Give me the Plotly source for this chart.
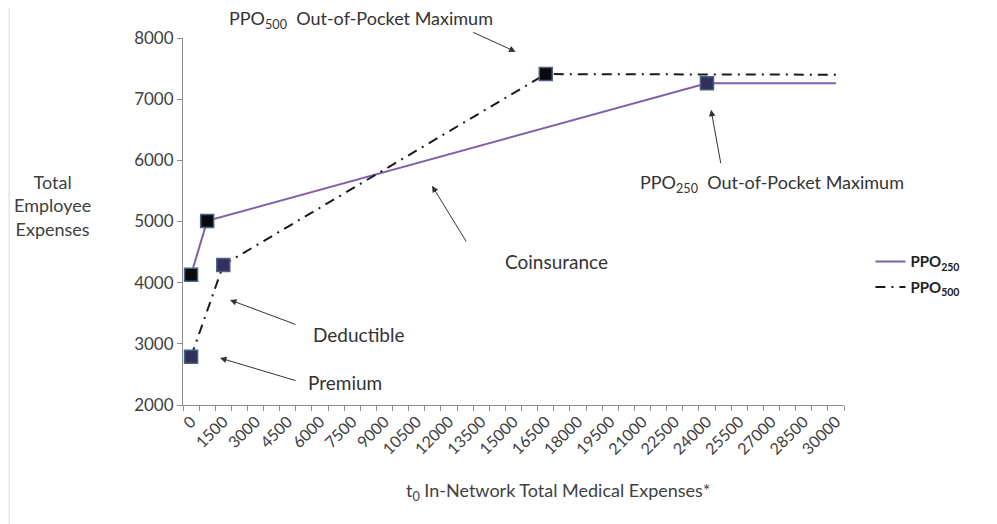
import plotly.graph_objects as go

# ---- data ----
ppo250_x = [0, 750, 24000, 30000]
ppo250_y = [4130, 5010, 7260, 7260]
ppo500_x = [0, 1500, 16500, 30000]
ppo500_y = [2790, 4290, 7410, 7400]

ppo250_marker_fill = ["#0a0a0a", "#0a0a0a", "#30305a"]
ppo500_marker_fill = ["#30305a", "#30305a", "#0a0a0a"]

x_tick_vals = list(range(0, 30001, 1500))
x_tick_text = [str(v) for v in x_tick_vals]
y_tick_vals = [2000, 3000, 4000, 5000, 6000, 7000, 8000]

FONT = "Lato, Open Sans, sans-serif"
TXT = "#404040"

fig = go.Figure()

# lines
fig.add_trace(go.Scatter(
    x=ppo250_x, y=ppo250_y, mode="lines", name="<b>PPO<sub>250</sub></b>",
    legendgroup="a", line=dict(color="#7f5fa8", width=2)))
fig.add_trace(go.Scatter(
    x=ppo500_x, y=ppo500_y, mode="lines", name="<b>PPO<sub>500</sub></b>",
    legendgroup="b", line=dict(color="#1a1a1a", width=2, dash="10px,6px,2px,6px")))

# markers (only at the kink points)
fig.add_trace(go.Scatter(
    x=ppo250_x[:3], y=ppo250_y[:3], mode="markers", showlegend=False,
    marker=dict(symbol="square", size=13, color=ppo250_marker_fill,
                line=dict(color="#4a5f85", width=1.5))))
fig.add_trace(go.Scatter(
    x=ppo500_x[:3], y=ppo500_y[:3], mode="markers", showlegend=False,
    marker=dict(symbol="square", size=13, color=ppo500_marker_fill,
                line=dict(color="#4a5f85", width=1.5))))

# text labels (paper coordinates)
fig.add_annotation(xref="paper", yref="paper", x=0.269, y=1.087,
                   text="PPO<sub>500</sub>  Out-of-Pocket Maximum", showarrow=False,
                   xanchor="center", yanchor="top", borderpad=0,
                   font=dict(family=FONT, size=18, color="#333333"))
labels = [
    ("PPO<sub>250</sub>  Out-of-Pocket Maximum", 0.891, 0.6027, 18),
    ("Coinsurance", 0.5658, 0.3900, 19),
    ("Deductible", 0.2663, 0.1909, 19),
    ("Premium", 0.2451, 0.0600, 19),
]
for t, x, y, s in labels:
    fig.add_annotation(xref="paper", yref="paper", x=x, y=y, text=t, showarrow=False,
                       xanchor="center", yanchor="middle",
                       font=dict(family=FONT, size=s, color="#333333"))

# arrows: head in data coords, tail in pixel offsets
arrows = [
    (15100, 7776, -44, -20),
    (24190, 6827, 10, 55),
    (11210, 5583, 35, 57),
    (1812, 3717, 67, 25),
    (1346, 2768, 77, 23),
]
for x, y, ax, ay in arrows:
    fig.add_annotation(x=x, y=y, ax=ax, ay=ay, text="", showarrow=True,
                       arrowhead=2, arrowsize=1.3, arrowwidth=1, arrowcolor="#333333")

# y-axis title (horizontal)
fig.add_annotation(xref="paper", yref="paper", x=-0.198, y=0.5427,
                   text="Total<br>Employee<br>Expenses", showarrow=False,
                   xanchor="center", yanchor="middle",
                   font=dict(family=FONT, size=18, color=TXT))
# x-axis title
fig.add_annotation(xref="paper", yref="paper", x=0.567, y=-0.235,
                   text="t<sub>0</sub> In-Network Total Medical Expenses*", showarrow=False,
                   xanchor="center", yanchor="middle",
                   font=dict(family=FONT, size=18, color=TXT))

# faint left border line
fig.add_shape(type="line", xref="paper", yref="paper", x0=-0.263, x1=-0.263,
              y0=-0.33, y1=1.11, line=dict(color="#d9d9d9", width=1))

fig.update_xaxes(
    range=[-375, 30375], showgrid=False, zeroline=False, automargin=False,
    showline=True, linecolor="#8c8c8c", linewidth=1,
    tickmode="array", tickvals=x_tick_vals, ticktext=x_tick_text,
    tickangle=-45, ticks="", ticklen=0,
    tickfont=dict(family=FONT, size=16, color=TXT),
    minor=dict(tickmode="linear", tick0=-375, dtick=750, ticks="outside",
               ticklen=5, tickcolor="#8c8c8c", showgrid=False),
)
fig.update_yaxes(
    range=[2000, 8000], showgrid=False, zeroline=False, automargin=False,
    showline=True, linecolor="#8c8c8c", linewidth=1,
    tickmode="array", tickvals=y_tick_vals,
    ticks="outside", ticklen=5, tickcolor="#8c8c8c",
    tickfont=dict(family=FONT, size=17, color=TXT),
)

# page body has an 8px margin; size/margins compensate so the plot lands in place
fig.update_layout(
    width=989, height=516,
    margin=dict(l=175, r=153, t=30, b=119),
    plot_bgcolor="white", paper_bgcolor="white",
    legend=dict(x=1.04, y=0.435, xanchor="left", yanchor="top",
                traceorder="grouped", tracegroupgap=3,
                font=dict(family=FONT, size=15, color="#222222"),
                bgcolor="rgba(0,0,0,0)"),
    font=dict(family=FONT),
)

fig.write_html("out.html")
